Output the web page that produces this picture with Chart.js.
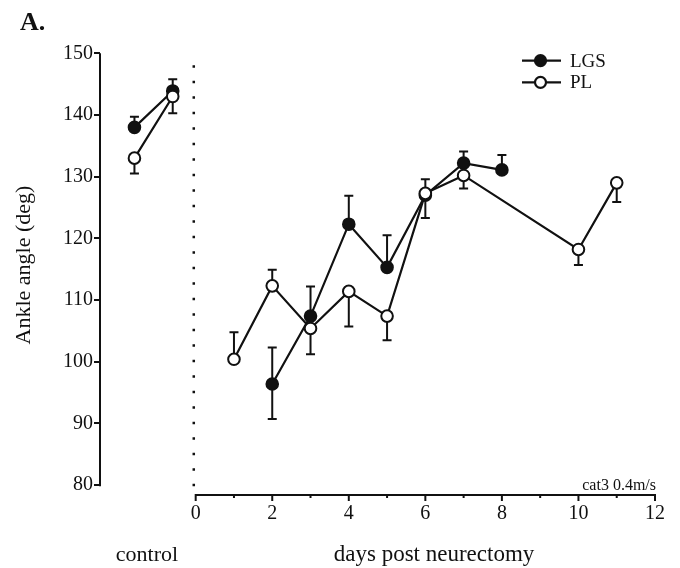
<!DOCTYPE html>
<html>
<head>
<meta charset="utf-8">
<script src="https://cdn.jsdelivr.net/npm/chart.js@4.4.1/dist/chart.umd.min.js"></script>
<style>
  body { margin: 0; background: #fff; }
  canvas { display: block; }
</style>
</head>
<body>
<canvas id="chart" width="680" height="568"></canvas>
<script>
// values (ankle angle, deg)
const controlX = [-1.6, -0.6];
const dividerX = -0.05;
const lgsDays = [2, 3, 4, 5, 6, 7, 8];
const plDays = [1, 2, 3, 4, 5, 6, 7, 10, 11];

const lgsControl = [138, 143.9];
const plControl = [133, 143];
const lgsValues = [96.4, 107.4, 122.3, 115.3, 127, 132.2, 131.1];
const plValues = [100.4, 112.3, 105.4, 111.4, 107.4, 127.3, 130.2, 118.2, 129];

// error bar ends (null = not drawn)
const lgsControlHi = [139.7, 145.8];
const lgsControlLo = [null, null];
const plControlHi = [null, null];
const plControlLo = [130.5, 140.3];
const lgsHi = [102.3, 112.2, 126.9, 120.5, null, 134.1, 133.5];
const lgsLo = [90.7, null, null, null, 123.3, null, null];
const plHi = [104.8, 114.9, null, null, null, 129.6, null, null, null];
const plLo = [null, null, 101.2, 105.7, 103.5, null, 128.1, 115.7, 125.9];

const yTicks = [80, 90, 100, 110, 120, 130, 140, 150];
const xTicks = [0, 1, 2, 3, 4, 5, 6, 7, 8, 9, 10, 11, 12];

const serif = '"Liberation Serif", "DejaVu Serif", serif';
const ink = '#111';

function series(cx, cv, chi, clo, days, vals, hi, lo) {
  const pts = cx.map((x, i) => ({ x: x, y: cv[i], hi: chi[i], lo: clo[i] }));
  pts.push({ x: dividerX, y: null });
  days.forEach((d, i) => pts.push({ x: d, y: vals[i], hi: hi[i], lo: lo[i] }));
  return pts;
}

const plData = series(controlX, plControl, plControlHi, plControlLo, plDays, plValues, plHi, plLo);
const lgsData = series(controlX, lgsControl, lgsControlHi, lgsControlLo, lgsDays, lgsValues, lgsHi, lgsLo);

//axes, divider and error bars
const axesPlugin = {
  id: 'axesPlugin',
  beforeDatasetsDraw(chart) {
    const ctx = chart.ctx;
    const x = chart.scales.x, y = chart.scales.y;
    const area = chart.chartArea;
    ctx.save();
    ctx.strokeStyle = ink;
    ctx.lineWidth = 2;
    ctx.lineCap = 'butt';

    // y axis line
    ctx.beginPath();
    ctx.moveTo(area.left, y.getPixelForValue(150));
    ctx.lineTo(area.left, y.getPixelForValue(80) + 1);
    ctx.stroke();

    // x axis line + ticks
    const base = area.bottom;
    ctx.beginPath();
    ctx.moveTo(x.getPixelForValue(0), base);
    ctx.lineTo(x.getPixelForValue(12), base);
    ctx.stroke();
    xTicks.forEach(t => {
      const px = x.getPixelForValue(t);
      ctx.beginPath();
      ctx.moveTo(px, base - 1);
      ctx.lineTo(px, base + (t % 2 === 0 ? 6 : 3));
      ctx.stroke();
    });

    // dotted divider
    ctx.setLineDash([2.5, 13]);
    ctx.lineWidth = 2.5;
    ctx.beginPath();
    const dx = x.getPixelForValue(dividerX);
    ctx.moveTo(dx, area.top + 12);
    ctx.lineTo(dx, base);
    ctx.stroke();
    ctx.setLineDash([]);

    // error bars
    ctx.lineWidth = 2;
    chart.data.datasets.forEach(ds => {
      ds.data.forEach(p => {
        if (p.y === null) return;
        const px = x.getPixelForValue(p.x);
        [p.hi, p.lo].forEach(end => {
          if (end === null || end === undefined) return;
          const py = y.getPixelForValue(end);
          ctx.beginPath();
          ctx.moveTo(px, y.getPixelForValue(p.y));
          ctx.lineTo(px, py);
          ctx.moveTo(px - 4.5, py);
          ctx.lineTo(px + 4.5, py);
          ctx.stroke();
        });
      });
    });
    ctx.restore();
  },
  afterDraw(chart) {
    const ctx = chart.ctx;
    ctx.save();
    ctx.fillStyle = ink;
    ctx.strokeStyle = ink;

    // legend
    const items = [['LGS', ink, 60.7], ['PL', '#fff', 82.3]];
    items.forEach(([name, fill, ly]) => {
      ctx.lineWidth = 2.2;
      ctx.beginPath();
      ctx.moveTo(522, ly);
      ctx.lineTo(561, ly);
      ctx.stroke();
      ctx.beginPath();
      ctx.arc(540.5, ly, 5.5, 0, Math.PI * 2);
      ctx.fillStyle = fill;
      ctx.fill();
      ctx.stroke();
      ctx.fillStyle = ink;
      ctx.font = '19px ' + serif;
      ctx.textBaseline = 'middle';
      ctx.textAlign = 'left';
      ctx.fillText(name, 570, ly + 1);
    });

    // panel letter
    ctx.textBaseline = 'alphabetic';
    ctx.font = 'bold 26px ' + serif;
    ctx.fillText('A.', 20, 30);

    // small note
    ctx.font = '16px ' + serif;
    ctx.textAlign = 'right';
    ctx.fillText('cat3 0.4m/s', 656, 490);

    // bottom labels
    ctx.font = '22px ' + serif;
    ctx.textAlign = 'center';
    ctx.fillText('control', 147, 561);
    ctx.font = '23px ' + serif;
    ctx.fillText('days post neurectomy', 434, 561);

    // y title
    ctx.font = '22px ' + serif;
    ctx.translate(30, 265);
    ctx.rotate(-Math.PI / 2);
    ctx.fillText('Ankle angle (deg)', 0, 0);
    ctx.restore();
  }
};

new Chart(document.querySelector('#chart'), {
  type: 'line',
  data: {
    datasets: [
      {
        label: 'PL',
        data: plData,
        borderColor: ink,
        borderWidth: 2.2,
        pointBackgroundColor: '#fff',
        pointBorderColor: ink,
        pointBorderWidth: 2,
        pointRadius: 5.8,
        tension: 0,
        spanGaps: false
      },
      {
        label: 'LGS',
        data: lgsData,
        borderColor: ink,
        borderWidth: 2.2,
        pointBackgroundColor: ink,
        pointBorderColor: ink,
        pointBorderWidth: 2,
        pointRadius: 5.8,
        tension: 0,
        spanGaps: false
      }
    ]
  },
  options: {
    responsive: false,
    devicePixelRatio: 1,
    animation: false,
    layout: { padding: { top: 53.3, right: 25, left: 0, bottom: 0 } },
    plugins: {
      legend: { display: false },
      tooltip: { enabled: false }
    },
    scales: {
      x: {
        type: 'linear',
        min: -2.5,
        max: 12,
        afterBuildTicks: s => { s.ticks = xTicks.map(v => ({ value: v })); },
        afterFit: s => { s.height = 73; },
        grid: { display: false, drawTicks: false },
        border: { display: false },
        ticks: {
          autoSkip: false,
          maxRotation: 0,
          padding: 7,
          color: ink,
          font: { family: serif, size: 20 },
          callback: v => (v % 2 === 0 ? String(v) : '')
        }
      },
      y: {
        min: 78.4,
        max: 150,
        afterBuildTicks: s => { s.ticks = yTicks.map(v => ({ value: v })); },
        afterFit: s => { s.width = 100; },
        grid: { drawOnChartArea: false, drawTicks: true, tickLength: 6, color: ink, lineWidth: 2 },
        border: { display: false },
        ticks: {
          padding: 1,
          color: ink,
          font: { family: serif, size: 20 }
        }
      }
    }
  },
  plugins: [axesPlugin]
});
</script>
</body>
</html>
